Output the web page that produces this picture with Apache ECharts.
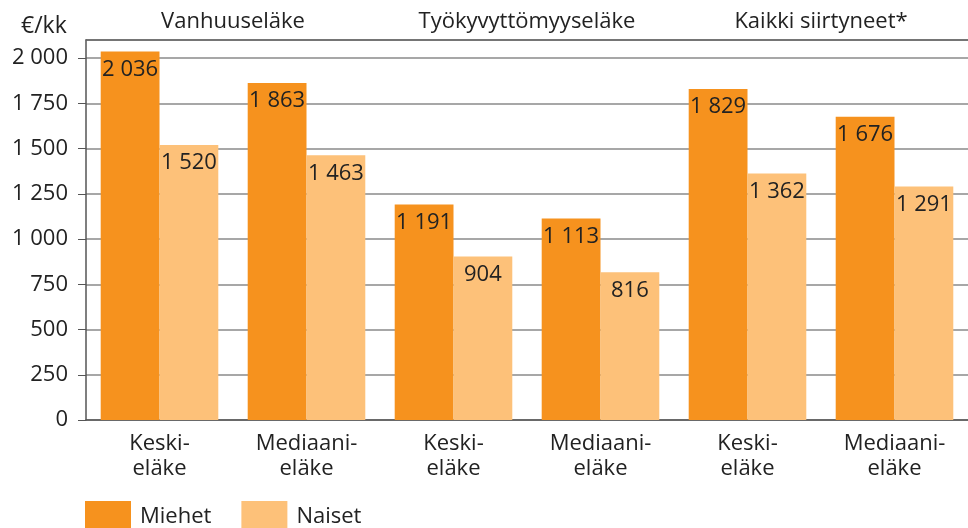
<!DOCTYPE html>
<html><head><meta charset="utf-8">
<script src="https://cdn.jsdelivr.net/npm/echarts@6/dist/echarts.min.js"></script>
<style>html,body{margin:0;padding:0;background:#fff}#c{width:968px;height:528px}</style>
</head><body><div id="c"></div>
<script>
const categories = ['Keski-\neläke','Mediaani-\neläke','Keski-\neläke','Mediaani-\neläke','Keski-\neläke','Mediaani-\neläke'];
const groups = ['Vanhuuseläke','Työkyvyttömyyseläke','Kaikki siirtyneet*'];
const miehet = [2036, 1863, 1191, 1113, 1829, 1676];
const naiset = [1520, 1463, 904, 816, 1362, 1291];
const yTicks = {min: 0, max: 2100, interval: 250};

const FONT = '"Open Sans", "Noto Sans", sans-serif';
const FS = 22;
const fmt = v => String(v).replace(/\B(?=(\d{3})+(?!\d))/g, ' ');
const chart = echarts.init(document.getElementById('c'), null, {renderer: 'canvas'});
const lbl = {show: true, position: 'insideTop', distance: 7, color: '#222', fontSize: FS, fontFamily: FONT, formatter: p => fmt(p.value)};
chart.setOption({
  animation: false,
  title: {text: '€/kk', left: 16, top: 10, textStyle: {fontSize: 23, fontWeight: 'normal', color: '#222', fontFamily: FONT}},
  grid: {left: 86, width: 888, top: 40, bottom: 108},
  legend: {left: 80, top: 496, itemWidth: 46, itemHeight: 32, itemGap: 30, icon: 'rect',
    textStyle: {fontSize: FS, color: '#222', fontFamily: FONT, padding: [0, 0, 0, 4]},
    data: ['Miehet', 'Naiset']},
  xAxis: [
    {type: 'category', data: categories, axisLine: {lineStyle: {color: '#555', width: 1.5}}, axisTick: {show: false},
      axisLabel: {fontSize: FS, color: '#222', fontFamily: FONT, lineHeight: 25, margin: 11}},
    {type: 'category', position: 'top', data: groups,
      axisLine: {show: true, onZero: false, lineStyle: {color: '#666', width: 1.5}}, axisTick: {show: false},
      axisLabel: {fontSize: FS, color: '#222', fontFamily: FONT, margin: 7}}
  ],
  yAxis: {type: 'value', min: yTicks.min, max: yTicks.max, interval: yTicks.interval,
    axisLine: {show: true, lineStyle: {color: '#555', width: 1.5}},
    axisTick: {show: true, length: 8, lineStyle: {color: '#555'}},
    axisLabel: {fontSize: FS, color: '#222', fontFamily: FONT, margin: 18, showMaxLabel: false,
      formatter: v => (v % 250 === 0 ? fmt(v) : '')},
    splitLine: {lineStyle: {color: '#8a8a8a', width: 1.5}}},
  series: [
    {name: 'Miehet', type: 'bar', data: miehet, barGap: '0%', barCategoryGap: '20%', itemStyle: {color: '#F6921E'}, label: lbl},
    {name: 'Naiset', type: 'bar', data: naiset, itemStyle: {color: '#FDC179'}, label: lbl}
  ]
});
</script></body></html>
